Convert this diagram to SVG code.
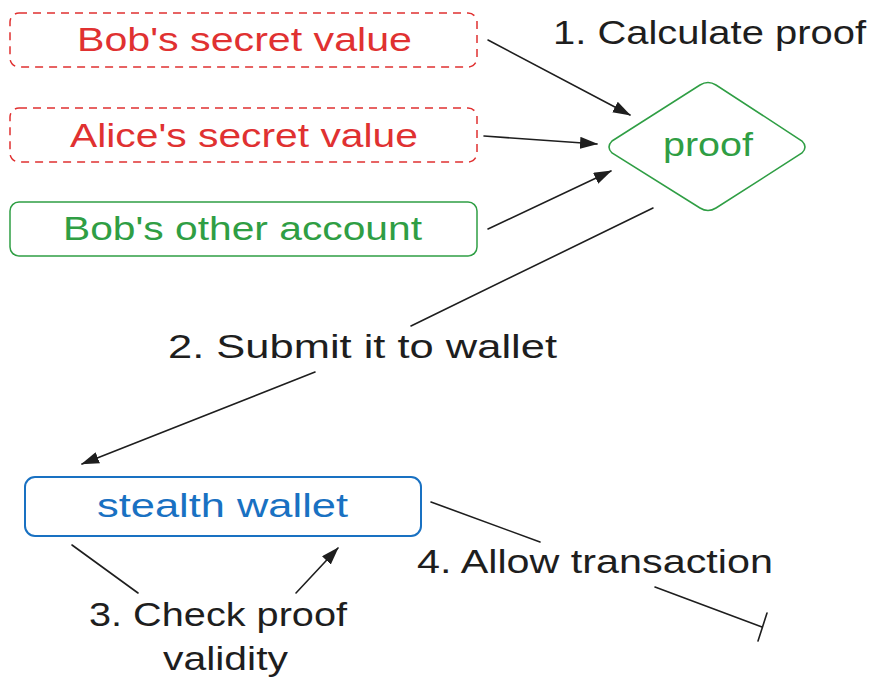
<svg xmlns="http://www.w3.org/2000/svg" width="877" height="693" viewBox="0 0 877 693">
<style>
  text { font-family: "Liberation Sans", "DejaVu Sans", sans-serif; font-size: 33px; }
  .red { fill: #e03131; }
  .green { fill: #2f9e44; }
  .blue { fill: #1971c2; }
  .ink { fill: #1e1e1e; }
  .box-red { fill: none; stroke: #e03131; stroke-width: 1.5; stroke-dasharray: 8 6; }
  .box-green { fill: none; stroke: #2f9e44; stroke-width: 1.5; }
  .box-blue { fill: none; stroke: #1971c2; stroke-width: 2; }
  .edge { fill: none; stroke: #1e1e1e; stroke-width: 1.6; stroke-linecap: round; }
</style>
<defs>
  <marker id="arrow" viewBox="0 0 18 12" refX="17" refY="6" markerWidth="18" markerHeight="12" markerUnits="userSpaceOnUse" orient="auto">
    <path d="M0,0 L18,6 L0,12 Z" fill="#1e1e1e"/>
  </marker>
</defs>
<rect width="877" height="693" fill="#ffffff"/>

<g id="bob-secret">
  <rect class="box-red" x="10" y="13" width="467" height="54" rx="9"/>
  <text class="red" x="77" y="51" textLength="335" lengthAdjust="spacingAndGlyphs">Bob's secret value</text>
</g>
<g id="alice-secret">
  <rect class="box-red" x="10" y="108" width="467" height="54" rx="9"/>
  <text class="red" x="70" y="147" textLength="348" lengthAdjust="spacingAndGlyphs">Alice's secret value</text>
</g>
<g id="bob-other">
  <rect class="box-green" x="10" y="202" width="467" height="54" rx="9"/>
  <text class="green" x="63" y="240" textLength="359" lengthAdjust="spacingAndGlyphs">Bob's other account</text>
</g>
<g id="proof">
  <path class="box-green" d="M612,141 L700,85 Q708,80 716,85 L802,141 Q808,147 802,153 L716,208 Q708,213 700,208 L612,153 Q606,147 612,141 Z"/>
  <text class="green" x="663" y="156" textLength="90" lengthAdjust="spacingAndGlyphs">proof</text>
</g>
<g id="stealth-wallet">
  <rect class="box-blue" x="25" y="477" width="396" height="59" rx="10"/>
  <text class="blue" x="97" y="517" textLength="251" lengthAdjust="spacingAndGlyphs">stealth wallet</text>
</g>

<g id="connectors">
  <path class="edge" d="M488,40 L630,115" marker-end="url(#arrow)"/>
  <path class="edge" d="M484,136 L597,144" marker-end="url(#arrow)"/>
  <path class="edge" d="M488,229 L611,171" marker-end="url(#arrow)"/>
  <path class="edge" d="M653,208 L411,326"/>
  <path class="edge" d="M315,372 L82,464" marker-end="url(#arrow)"/>
  <path class="edge" d="M72,545 L138,593"/>
  <path class="edge" d="M296,593 L338,548" marker-end="url(#arrow)"/>
  <path class="edge" d="M431,502 L540,542"/>
  <path class="edge" d="M655,587 L762,627"/>
  <path class="edge" d="M767,613 L758,641"/>
</g>

<g id="labels">
  <text class="ink" x="553" y="44" textLength="313" lengthAdjust="spacingAndGlyphs">1. Calculate proof</text>
  <text class="ink" x="168" y="358" textLength="389" lengthAdjust="spacingAndGlyphs">2. Submit it to wallet</text>
  <text class="ink" x="89" y="626" textLength="258" lengthAdjust="spacingAndGlyphs">3. Check proof</text>
  <text class="ink" x="163" y="670" textLength="125" lengthAdjust="spacingAndGlyphs">validity</text>
  <text class="ink" x="417" y="573" textLength="356" lengthAdjust="spacingAndGlyphs">4. Allow transaction</text>
</g>
</svg>
